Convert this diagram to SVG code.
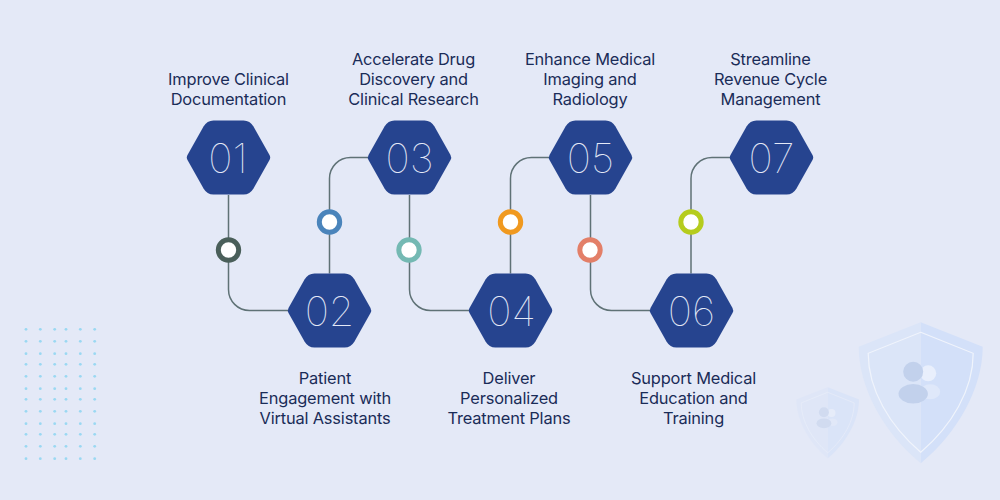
<svg xmlns="http://www.w3.org/2000/svg" width="1000" height="500" viewBox="0 0 1000 500">
<style>
.lab{font-family:"Inter","Liberation Sans",sans-serif;font-size:16.4px;fill:#1a2c58;text-anchor:middle;letter-spacing:-.17px}
.num{font-family:"Inter","Liberation Sans",sans-serif;font-size:41px;font-weight:100;fill:#e4e9f7;text-anchor:middle}
.hx{fill:#26448f}
.cn{fill:none;stroke:#5f7276;stroke-width:1.5}
.dot{fill:#fff;stroke-width:5}
.d{fill:#9ad8f2}
</style>
<defs>
<path id="hex" d="M-41 -2.5L-25 -31Q-21.5 -37 -15 -37L15 -37Q21.5 -37 25 -31L41 -2.5Q42.4 0 41 2.5L25 31Q21.5 37 15 37L-15 37Q-21.5 37 -25 31L-41 2.5Q-42.4 0 -41 -2.5Z"/>
<g id="shield">
<path d="M0 -70.5L62 -46C62 -5 37 40 0 70.5Z" fill="#d3e0f9"/>
<path d="M0 -70.5L-62 -46C-62 -5 -37 40 0 70.5Z" fill="#dbe5f8"/>
<path d="M0 -60.5L52.5 -39.500C52.500 -3 31 33 0 59.500C-31 33 -52.5 -3 -52.5 -39.500Z" fill="none" stroke="#f0f4fc" stroke-width="1.2"/>
<circle cx="7.500" cy="-19.500" r="8" fill="#e9effc"/>
<ellipse cx="9.500" cy="-1" rx="10" ry="7.500" fill="#dfe8fa"/>
<circle cx="-7.500" cy="-21" r="10" fill="#c2d1ec"/>
<ellipse cx="-7.500" cy="1" rx="14.700" ry="9.700" fill="#c2d1ec"/>
</g>
</defs>
<rect width="1000" height="500" fill="#e4e9f7"/>
<g id="dots" class="d">
<circle cx="26" cy="329.300" r="1.400"/><circle cx="40.300" cy="329.300" r="1.400"/><circle cx="54.700" cy="329.300" r="1.400"/><circle cx="66" cy="329.300" r="1.400"/><circle cx="80.300" cy="329.300" r="1.400"/><circle cx="94.700" cy="329.300" r="1.400"/>
<circle cx="26" cy="341.300" r="1.400"/><circle cx="40.300" cy="341.300" r="1.400"/><circle cx="54.700" cy="341.300" r="1.400"/><circle cx="66" cy="341.300" r="1.400"/><circle cx="80.300" cy="341.300" r="1.400"/><circle cx="94.700" cy="341.300" r="1.400"/>
<circle cx="26" cy="353.700" r="1.400"/><circle cx="40.300" cy="353.700" r="1.400"/><circle cx="54.700" cy="353.700" r="1.400"/><circle cx="66" cy="353.700" r="1.400"/><circle cx="80.300" cy="353.700" r="1.400"/><circle cx="94.700" cy="353.700" r="1.400"/>
<circle cx="26" cy="364.300" r="1.400"/><circle cx="40.300" cy="364.300" r="1.400"/><circle cx="54.700" cy="364.300" r="1.400"/><circle cx="66" cy="364.300" r="1.400"/><circle cx="80.300" cy="364.300" r="1.400"/><circle cx="94.700" cy="364.300" r="1.400"/>
<circle cx="26" cy="376.300" r="1.400"/><circle cx="40.300" cy="376.300" r="1.400"/><circle cx="54.700" cy="376.300" r="1.400"/><circle cx="66" cy="376.300" r="1.400"/><circle cx="80.300" cy="376.300" r="1.400"/><circle cx="94.700" cy="376.300" r="1.400"/>
<circle cx="26" cy="388.700" r="1.400"/><circle cx="40.300" cy="388.700" r="1.400"/><circle cx="54.700" cy="388.700" r="1.400"/><circle cx="66" cy="388.700" r="1.400"/><circle cx="80.300" cy="388.700" r="1.400"/><circle cx="94.700" cy="388.700" r="1.400"/>
<circle cx="26" cy="399.300" r="1.400"/><circle cx="40.300" cy="399.300" r="1.400"/><circle cx="54.700" cy="399.300" r="1.400"/><circle cx="66" cy="399.300" r="1.400"/><circle cx="80.300" cy="399.300" r="1.400"/><circle cx="94.700" cy="399.300" r="1.400"/>
<circle cx="26" cy="411.300" r="1.400"/><circle cx="40.300" cy="411.300" r="1.400"/><circle cx="54.700" cy="411.300" r="1.400"/><circle cx="66" cy="411.300" r="1.400"/><circle cx="80.300" cy="411.300" r="1.400"/><circle cx="94.700" cy="411.300" r="1.400"/>
<circle cx="26" cy="423.700" r="1.400"/><circle cx="40.300" cy="423.700" r="1.400"/><circle cx="54.700" cy="423.700" r="1.400"/><circle cx="66" cy="423.700" r="1.400"/><circle cx="80.300" cy="423.700" r="1.400"/><circle cx="94.700" cy="423.700" r="1.400"/>
<circle cx="26" cy="434.300" r="1.400"/><circle cx="40.300" cy="434.300" r="1.400"/><circle cx="54.700" cy="434.300" r="1.400"/><circle cx="66" cy="434.300" r="1.400"/><circle cx="80.300" cy="434.300" r="1.400"/><circle cx="94.700" cy="434.300" r="1.400"/>
<circle cx="26" cy="446.300" r="1.400"/><circle cx="40.300" cy="446.300" r="1.400"/><circle cx="54.700" cy="446.300" r="1.400"/><circle cx="66" cy="446.300" r="1.400"/><circle cx="80.300" cy="446.300" r="1.400"/><circle cx="94.700" cy="446.300" r="1.400"/>
<circle cx="26" cy="458.700" r="1.400"/><circle cx="40.300" cy="458.700" r="1.400"/><circle cx="54.700" cy="458.700" r="1.400"/><circle cx="66" cy="458.700" r="1.400"/><circle cx="80.300" cy="458.700" r="1.400"/><circle cx="94.700" cy="458.700" r="1.400"/>
</g>
<g id="shields">
<use href="#shield" transform="translate(920.700 392.800)"/>
<use href="#shield" transform="translate(827.700 422.800) scale(.504)" opacity=".55"/>
</g>
<g id="connectors" class="cn">
<path d="M228.500 195V289.500A21 21 0 0 0 249.500 310.500H288"/>
<path d="M329.500 273.500V178.500A21 21 0 0 1 350.500 157.500H368"/>
<path d="M409.500 195V289.500A21 21 0 0 0 430.500 310.500H469"/>
<path d="M510.500 273.500V178.500A21 21 0 0 1 531.500 157.500H549"/>
<path d="M590.500 195V289.500A21 21 0 0 0 611.500 310.500H650"/>
<path d="M691 273.500V178.500A21 21 0 0 1 712 157.500H730"/>
</g>
<g id="markers">
<circle class="dot" cx="228.500" cy="250" r="10.200" stroke="#4a5f5a"/>
<circle class="dot" cx="329.500" cy="222" r="10.200" stroke="#4a84bb"/>
<circle class="dot" cx="409" cy="250" r="10.200" stroke="#74b9b3"/>
<circle class="dot" cx="510.500" cy="222" r="10.200" stroke="#f0991f"/>
<circle class="dot" cx="590" cy="250" r="10.200" stroke="#e37f68"/>
<circle class="dot" cx="691" cy="222" r="10.200" stroke="#b5cc1d"/>
</g>
<g id="node1"><use class="hx" href="#hex" x="228.500" y="157.500"/><text class="num" x="228" y="173">01</text><text class="lab" x="228.500" y="85">Improve Clinical</text><text class="lab" x="228.500" y="105">Documentation</text></g>
<g id="node2"><use class="hx" href="#hex" x="329.500" y="310.500"/><text class="num" x="329.500" y="326">02</text><text class="lab" x="325" y="384">Patient</text><text class="lab" x="325" y="404">Engagement with</text><text class="lab" x="325" y="424">Virtual Assistants</text></g>
<g id="node3"><use class="hx" href="#hex" x="409.500" y="157.500"/><text class="num" x="409.500" y="173">03</text><text class="lab" x="413.500" y="65">Accelerate Drug</text><text class="lab" x="413.500" y="85">Discovery and</text><text class="lab" x="413.500" y="105">Clinical Research</text></g>
<g id="node4"><use class="hx" href="#hex" x="510.500" y="310.500"/><text class="num" x="511.500" y="326">04</text><text class="lab" x="509" y="384">Deliver</text><text class="lab" x="509" y="404">Personalized</text><text class="lab" x="509" y="424">Treatment Plans</text></g>
<g id="node5"><use class="hx" href="#hex" x="590.500" y="157.500"/><text class="num" x="590.500" y="173">05</text><text class="lab" x="590" y="65">Enhance Medical</text><text class="lab" x="590" y="85">Imaging and</text><text class="lab" x="590" y="105">Radiology</text></g>
<g id="node6"><use class="hx" href="#hex" x="691.500" y="310.500"/><text class="num" x="691.500" y="326">06</text><text class="lab" x="693.500" y="384">Support Medical</text><text class="lab" x="693.500" y="404">Education and</text><text class="lab" x="693.500" y="424">Training</text></g>
<g id="node7"><use class="hx" href="#hex" x="771.500" y="157.500"/><text class="num" x="771.500" y="173">07</text><text class="lab" x="770.500" y="65">Streamline</text><text class="lab" x="770.500" y="85">Revenue Cycle</text><text class="lab" x="770.500" y="105">Management</text></g>
</svg>
